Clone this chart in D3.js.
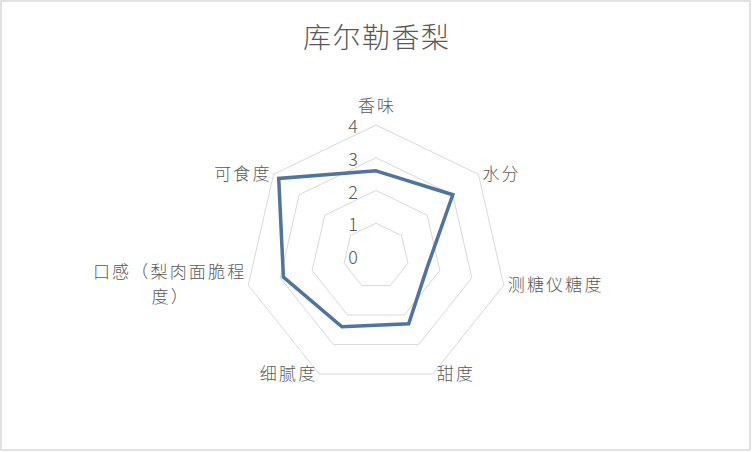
<!DOCTYPE html>
<html>
<head>
<meta charset="utf-8">
<script src="https://cdn.jsdelivr.net/npm/d3@7"></script>
<style>
    html, body { margin: 0; padding: 0; background: #fff; }
    text { font-family: "Noto Sans CJK SC", "Noto Sans", sans-serif; fill: #595959; font-weight: 300; }
</style>
</head>
<body>
<div id="chart"></div>
<script>
'use strict';

var title = '库尔勒香梨';
var categories = ['香味', '水分', '测糖仪糖度', '甜度', '细腻度', '口感（梨肉面脆程度）', '可食度'];
var values = [2.6, 3.0, 1.6, 2.3, 2.4, 2.9, 3.8];
var ticks = [0, 1, 2, 3, 4];

var width = 752,
    height = 452;

var center = { x: 376, y: 256 };
var spacing = 2.2; // letter-spacing of the category labels

var svg = d3.select('#chart').append('svg')
    .attr('width', width)
    .attr('height', height);

// outer frame
svg.append('rect')
    .attr('x', 1).attr('y', 1)
    .attr('width', width - 3).attr('height', height - 3)
    .style('fill', '#fff')
    .style('stroke', '#d9d9d9')
    .style('stroke-width', 1.5);

svg.append('text')
    .attr('x', center.x + 0.75)
    .attr('y', 36)
    .attr('text-anchor', 'middle')
    .attr('dominant-baseline', 'central')
    .style('font-size', '28px')
    .style('letter-spacing', '1.5px')
    .text(title);

var r = d3.scaleLinear().domain([0, 4]).range([0, 131]);
var angle = d3.scalePoint().domain(d3.range(categories.length + 1)).range([0, 2 * Math.PI]);

function pt(i, v) {
    var a = angle(i);
    return [center.x + r(v) * Math.sin(a), center.y - r(v) * Math.cos(a)];
}

var g = svg.append('g');

var ring = d3.line();

// grid rings
g.selectAll('path.ring')
    .data(ticks.filter(function(t) { return t > 0; }))
    .enter().append('path')
    .attr('class', 'ring')
    .attr('d', function(t) {
        return ring(categories.map(function(c, i) { return pt(i, t); })) + 'Z';
    })
    .style('fill', 'none')
    .style('stroke', '#d9d9d9')
    .style('stroke-width', 1);

// tick labels
g.selectAll('text.tick')
    .data(ticks)
    .enter().append('text')
    .attr('class', 'tick')
    .attr('x', center.x - 18)
    .attr('y', function(t) { return center.y - r(t); })
    .attr('text-anchor', 'end')
    .attr('dominant-baseline', 'central')
    .style('font-size', '18px')
    .text(function(t) { return t; });

// data polygon
g.append('path')
    .attr('d', ring(values.map(function(v, i) { return pt(i, v); })) + 'Z')
    .style('fill', 'none')
    .style('stroke', '#4e74a2')
    .style('stroke-width', 3.5)
    .style('stroke-linejoin', 'miter');

// category labels
categories.forEach(function(c, i) {
    var p = pt(i, 4);
    var s = Math.sin(angle(i));
    var anchor = Math.abs(s) < 0.01 ? 'middle' : (s > 0 ? 'start' : 'end');
    var x = p[0] + (anchor === 'start' ? 4 : anchor === 'end' ? -4 + spacing : spacing / 2);
    var y = Math.abs(s) < 0.01 ? p[1] - 21 : p[1] - 2;
    var lines = c.length > 8 ? [c.slice(0, 8), c.slice(8)] : [c];
    var lh = 25;

    var first = g.append('text')
        .attr('class', 'cat')
        .attr('x', x)
        .attr('y', y - (lines.length - 1) * lh / 2)
        .attr('text-anchor', anchor)
        .attr('dominant-baseline', 'central')
        .style('font-size', '17px')
        .style('letter-spacing', spacing + 'px')
        .text(lines[0]);

    if (lines.length > 1) {
        var w = first.node().getComputedTextLength();
        g.append('text')
            .attr('class', 'cat')
            .attr('x', x - w / 2 + spacing / 2)
            .attr('y', y + lh / 2)
            .attr('text-anchor', 'middle')
            .attr('dominant-baseline', 'central')
            .style('font-size', '17px')
            .style('letter-spacing', spacing + 'px')
            .text(lines[1]);
    }
});
</script>
</body>
</html>
